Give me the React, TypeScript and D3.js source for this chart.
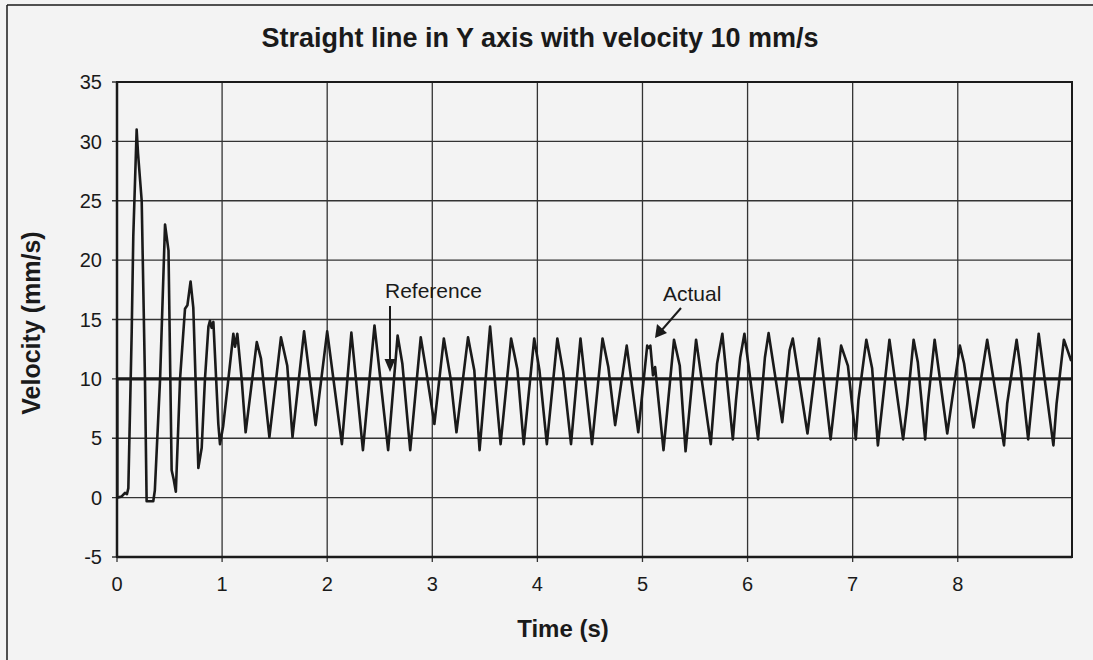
import React from "react";
import * as d3 from "d3";

const chartTitle = "Straight line in Y axis with velocity 10 mm/s";
const xLabel = "Time (s)";
const yLabel = "Velocity (mm/s)";
const xTicks = [0, 1, 2, 3, 4, 5, 6, 7, 8];
const yTicks = [-5, 0, 5, 10, 15, 20, 25, 30, 35];

const refTime = [0, 0, 9.087];
const refVel = [0, 10, 10];

const actualTime = [
  0, 0.045, 0.076, 0.095, 0.108, 0.14, 0.155, 0.187, 0.2, 0.235, 0.266, 0.282, 0.345, 0.36, 0.41, 0.457,
  0.49, 0.52, 0.54, 0.56, 0.6, 0.647, 0.67, 0.7, 0.726, 0.774, 0.806, 0.837, 0.87, 0.885, 0.9, 0.917,
  0.964, 0.98, 1.01, 1.06, 1.107, 1.123, 1.145, 1.186, 1.224,
  1.33, 1.37, 1.45, 1.56, 1.62, 1.67, 1.78, 1.89, 2.0, 2.14, 2.23, 2.34, 2.45,
  2.58, 2.67, 2.715, 2.79, 2.89, 2.94, 3.02, 3.11, 3.175, 3.23, 3.34, 3.4, 3.45, 3.55, 3.65,
  3.75, 3.81, 3.87, 3.97, 4.02, 4.09, 4.19, 4.245, 4.32, 4.41, 4.52, 4.62, 4.675, 4.74,
  4.85, 4.96, 5.045, 5.06, 5.075, 5.1, 5.12, 5.2, 5.3, 5.355, 5.41, 5.51, 5.65,
  5.71, 5.76, 5.86, 5.89, 5.93, 5.97, 6.1, 6.13, 6.165, 6.2, 6.33, 6.4, 6.43, 6.57,
  6.68, 6.79, 6.89, 6.955, 7.03, 7.055, 7.13, 7.185, 7.24, 7.35, 7.48, 7.52, 7.58, 7.62,
  7.69, 7.715, 7.78, 7.9, 8.02, 8.06, 8.15, 8.28, 8.44, 8.47, 8.56, 8.595, 8.67, 8.77,
  8.91, 8.94, 9.01, 9.08,
];
const actualVel = [
  0, 0.1, 0.4, 0.3, 0.8, 14, 22, 31, 29, 25, 10, -0.3, -0.3, 0.6, 10, 23,
  20.8, 2.3, 1.5, 0.5, 10, 15.9, 16.2, 18.2, 16, 2.5, 4.2, 10, 14.4, 14.9, 14.3, 14.8,
  6.2, 4.5, 6.0, 10, 13.8, 12.7, 13.8, 10, 5.5,
  13.1, 11.7, 5.1, 13.5, 11.1, 5.1, 14.0, 6.1, 14.0, 4.5, 13.9, 4.0, 14.5,
  4.0, 13.65, 11.3, 4.0, 13.5, 10.8, 6.2, 13.4, 10.0, 5.5, 13.5, 10.7, 4.0, 14.4, 4.5,
  13.4, 10.8, 4.5, 13.4, 10.7, 4.5, 13.4, 10.6, 4.5, 13.4, 4.5, 13.4, 11.0, 6.1,
  12.8, 5.5, 12.8, 12.6, 12.8, 10.3, 11.0, 4.0, 13.3, 11.1, 3.9, 13.3, 4.5,
  11.3, 13.8, 4.9, 8.2, 11.8, 13.8, 4.9, 8.2, 11.8, 13.85, 6.35, 12.4, 13.4, 5.4,
  13.4, 4.9, 12.8, 11.1, 4.9, 8.2, 13.3, 10.9, 4.4, 13.3, 4.9, 7.9, 13.3, 11.4,
  4.9, 7.9, 13.3, 5.4, 12.8, 11.3, 5.9, 13.3, 4.4, 7.9, 13.3, 11.0, 4.9, 13.8,
  4.4, 7.9, 13.3, 11.5,
];

const W = 1093;
const H = 660;
const M = { left: 117, right: 1072, top: 82, bottom: 557 };
const ink = "#1a1a1a";
const font = "Liberation Sans, Arial, sans-serif";

export default function App() {
  const x = d3.scaleLinear().domain([0, 9.087]).range([M.left, M.right]);
  const y = d3.scaleLinear().domain([-5, 35]).range([M.bottom, M.top]);

  const mk = (ts: number[], vs: number[]) =>
    d3
      .line<number>()
      .x((_, i) => x(ts[i]))
      .y((v) => y(v))
      .curve(d3.curveLinear)(vs) || "";

  const actualPath = mk(actualTime, actualVel);
  const refPath = mk(refTime, refVel);

  return (
    <svg
      width={W}
      height={H}
      style={{ position: "absolute", left: 0, top: 0, background: "#f3f3f3" }}
      fontFamily={font}
    >
      <defs>
        <clipPath id="plotclip">
          <rect x={M.left} y={M.top} width={M.right - M.left} height={M.bottom - M.top} />
        </clipPath>
      </defs>
      <rect x={0} y={0} width={W} height={H} fill="#f3f3f3" />
      <line x1={7} y1={5} x2={7} y2={H} stroke={ink} strokeWidth={1.5} />
      <line x1={7} y1={5} x2={W} y2={5} stroke={ink} strokeWidth={1.5} />

      <text x={540} y={47} textAnchor="middle" fontSize={27} fontWeight="bold" fill={ink}>
        {chartTitle}
      </text>

      {yTicks.map((t) => (
        <line key={"gy" + t} x1={M.left - 5} x2={M.right} y1={y(t)} y2={y(t)} stroke="#333" strokeWidth={1.3} />
      ))}
      {xTicks.map((t) => (
        <line key={"gx" + t} x1={x(t)} x2={x(t)} y1={M.top} y2={M.bottom + 5} stroke="#333" strokeWidth={1.3} />
      ))}

      <rect
        x={M.left}
        y={M.top}
        width={M.right - M.left}
        height={M.bottom - M.top}
        fill="none"
        stroke={ink}
        strokeWidth={2}
      />
      <line x1={M.left} x2={M.left} y1={M.top} y2={M.bottom} stroke={ink} strokeWidth={2.5} />
      <line x1={M.left} x2={M.right} y1={M.bottom} y2={M.bottom} stroke={ink} strokeWidth={2.5} />

      {yTicks.map((t) => (
        <text key={"ty" + t} x={102} y={y(t)} dy="0.36em" textAnchor="end" fontSize={20} fill={ink}>
          {t}
        </text>
      ))}
      {xTicks.map((t) => (
        <text key={"tx" + t} x={x(t)} y={591} textAnchor="middle" fontSize={20} fill={ink}>
          {t}
        </text>
      ))}

      <text x={563} y={637} textAnchor="middle" fontSize={24} fontWeight="bold" fill={ink}>
        {xLabel}
      </text>
      <text
        transform={`translate(40,323) rotate(-90)`}
        textAnchor="middle"
        fontSize={25}
        fontWeight="bold"
        fill={ink}
      >
        {yLabel}
      </text>

      <g clipPath="url(#plotclip)">
        <path d={refPath} fill="none" stroke={ink} strokeWidth={3.2} />
        <path d={actualPath} fill="none" stroke={ink} strokeWidth={2.6} strokeLinejoin="round" />
      </g>

      <text x={385} y={298} fontSize={21} fill={ink}>
        Reference
      </text>
      <line x1={390} y1={306} x2={390} y2={362} stroke={ink} strokeWidth={2} />
      <path d="M384.5,359 L395.5,359 L390,372 Z" fill={ink} />

      <text x={663} y={301} fontSize={21} fill={ink}>
        Actual
      </text>
      <line x1={681} y1={308} x2={661} y2={331} stroke={ink} strokeWidth={2} />
      <path d="M655,338 L657,324 L667,333 Z" fill={ink} />
    </svg>
  );
}
